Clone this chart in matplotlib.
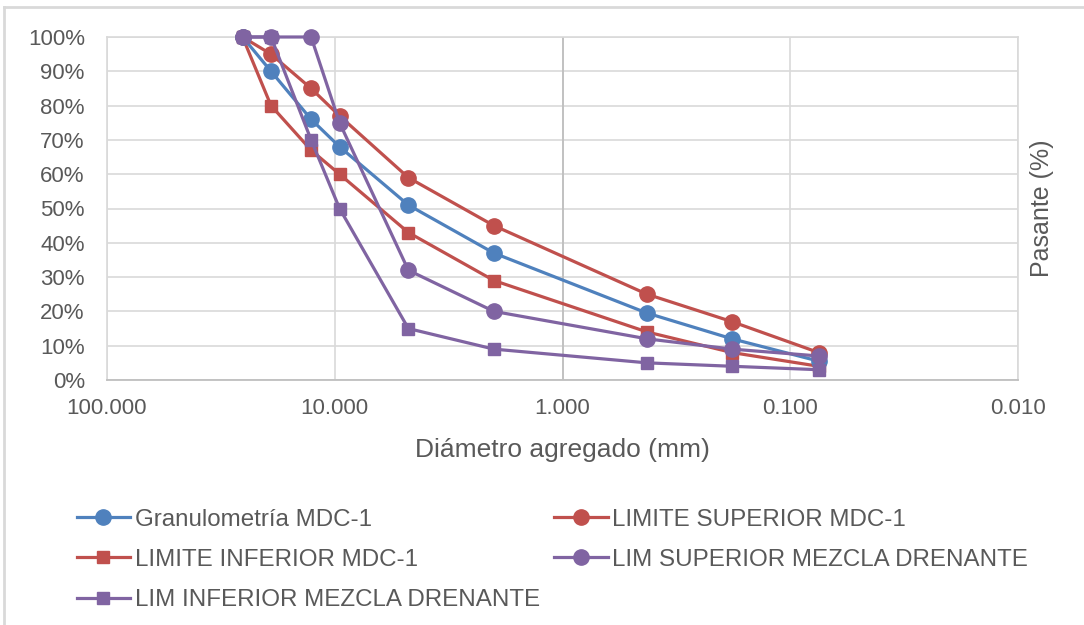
import numpy as np
import matplotlib.pyplot as plt
from matplotlib.lines import Line2D
from matplotlib.ticker import FixedLocator, FuncFormatter, NullLocator

plt.rcParams['font.family'] = ['Liberation Sans', 'DejaVu Sans']

# Sieve openings (mm) and percent passing for each curve
sieve_mm = [25.4, 19.05, 12.7, 9.525, 4.75, 2.0, 0.425, 0.18, 0.075]
granulometria = [100, 90, 76, 68, 51, 37, 19.5, 12, 5.5]
lim_sup_mdc = [100, 95, 85, 77, 59, 45, 25, 17, 8]
lim_inf_mdc = [100, 80, 67, 60, 43, 29, 14, 8, 4]
lim_sup_mezcla = [100, 100, 100, 75, 32, 20, 12, 9, 7]
lim_inf_mezcla = [100, 100, 70, 50, 15, 9, 5, 4, 3]

x_ticks = [100, 10, 1, 0.1, 0.01]
y_ticks = np.arange(0, 101, 10)

BLUE = '#4F81BD'
RED = '#C0504D'
PURPLE = '#8064A2'
TXT = '#595959'
GRID = '#D9D9D9'

fig = plt.figure(figsize=(10.84, 6.25), dpi=100)
ax = fig.add_axes([107 / 1084, 1 - 380 / 625, (1018 - 107) / 1084, (380 - 37) / 625])

lw = 2.3
kw = dict(lw=lw, clip_on=False)
h_gran, = ax.plot(sieve_mm, granulometria, color=BLUE, marker='o', ms=11,
                  label='Granulometría MDC-1', zorder=5, **kw)
h_sup, = ax.plot(sieve_mm, lim_sup_mdc, color=RED, marker='o', ms=11,
                 label='LIMITE SUPERIOR MDC-1', zorder=4, **kw)
h_inf, = ax.plot(sieve_mm, lim_inf_mdc, color=RED, marker='s', ms=9,
                 label='LIMITE INFERIOR MDC-1', zorder=4, **kw)
h_msup, = ax.plot(sieve_mm, lim_sup_mezcla, color=PURPLE, marker='o', ms=11,
                  label='LIM SUPERIOR MEZCLA DRENANTE', zorder=6, **kw)
h_minf, = ax.plot(sieve_mm, lim_inf_mezcla, color=PURPLE, marker='s', ms=9,
                  label='LIM INFERIOR MEZCLA DRENANTE', zorder=6, **kw)

ax.set_xscale('log')
ax.set_xlim(100, 0.01)
ax.set_ylim(0, 100)
ax.xaxis.set_major_locator(FixedLocator(x_ticks))
ax.xaxis.set_minor_locator(NullLocator())
ax.xaxis.set_major_formatter(FuncFormatter(lambda v, p: f'{v:.3f}'))
ax.yaxis.set_major_locator(FixedLocator(y_ticks))
ax.yaxis.set_major_formatter(FuncFormatter(lambda v, p: f'{v:.0f}%'))

ax.grid(True, color=GRID, lw=1.2, zorder=0)
ax.axvline(1, color='#BFBFBF', lw=1.3, zorder=1)
ax.set_axisbelow(True)
ax.tick_params(length=0, labelsize=16, colors=TXT)
ax.tick_params(axis='y', pad=16)
ax.tick_params(axis='x', pad=13)

for s in ['top', 'right', 'left']:
    ax.spines[s].set_color(GRID)
    ax.spines[s].set_linewidth(1.2)
ax.spines['bottom'].set_color('#BFBFBF')
ax.spines['bottom'].set_linewidth(1.3)

ax.set_xlabel('Diámetro agregado (mm)', fontsize=19, color=TXT, labelpad=14)
ax.set_ylabel('Pasante (%)', fontsize=18, color=TXT, labelpad=9)
ax.yaxis.set_label_position('right')

handles = [h_gran, h_inf, h_minf, h_sup, h_msup]
fig.legend(handles=handles, loc='upper left', bbox_to_anchor=(55 / 1084, 1 - 487 / 625),
           ncol=2, frameon=False, fontsize=17.4, handlelength=2.2, handletextpad=0.2,
           columnspacing=0.6, labelspacing=0.75, labelcolor=TXT)

# outer chart frame (top and left edges visible)
fig.add_artist(Line2D([4 / 1084, 1], [1 - 7 / 625, 1 - 7 / 625], color=GRID, lw=2))
fig.add_artist(Line2D([4 / 1084, 4 / 1084], [0, 1 - 7 / 625], color=GRID, lw=2))

fig.savefig('out.png', dpi=100)
